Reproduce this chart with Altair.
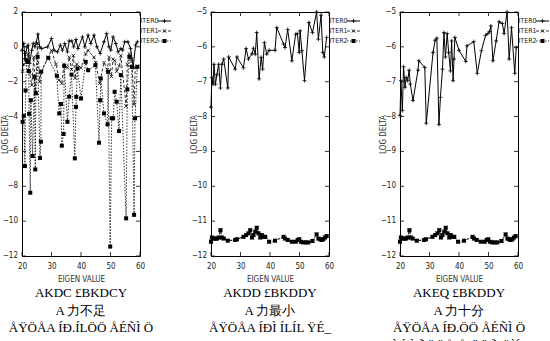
import altair as alt
import pandas as pd

# ---------------------------------------------------------------- data
SERIES = ["ITER0", "ITER1", "ITER2"]
X_TICKS = [20, 30, 40, 50, 60]
Y_TICKS_A = [-12, -10, -8, -6, -4, -2, 0, 2]
Y_TICKS_B = [-12, -11, -10, -9, -8, -7, -6, -5]

# panel 1
p1_iter0_x = [20.0, 20.6, 21.0, 21.7, 22.1, 22.6, 23.3, 23.8, 24.4, 24.8,
              25.4, 26.0, 26.6, 28.7, 30.0, 30.9, 32.0, 33.0, 33.7, 34.5,
              35.4, 36.0, 36.9, 37.5, 38.3, 39.0, 40.5, 41.3, 42.4, 43.3,
              44.4, 45.4, 46.5, 47.8, 48.7, 49.5, 50.1, 50.9, 51.8, 52.6,
              53.5, 54.1, 54.8, 55.9, 56.8, 57.7, 58.5, 59.1]
p1_iter0_y = [-0.2, 0.2, -0.67, 0.0, 0.1, -0.95, -0.2, 0.2, 0.0, 0.23,
              0.73, 0.0, -0.1, 0.0, 0.48, -0.2, -0.29, 0.1, -0.19, 0.19,
              -0.29, 0.34, 0.34, 0.0, 0.42, -0.1, 0.57, 0.0, 0.67, 0.19,
              0.67, 0.0, -0.38, 0.29, 0.76, 0.0, -0.19, 0.57, 0.19, -0.29,
              -0.1, -0.19, 0.29, 0.29, -0.1, -1.15, 0.1, 0.29]

p1_iter1_x = [20.2, 20.6, 21.0, 21.6, 22.1, 22.6, 23.3, 24.0, 24.5, 25.3,
              26.0, 26.5, 28.9, 30.0, 31.5, 32.6, 33.5, 34.2, 35.4, 36.0,
              36.8, 37.4, 38.0, 38.6, 40.0, 41.6, 42.4, 44.4, 45.0, 46.3,
              47.8, 48.9, 49.5, 50.3, 50.9, 51.4, 52.1, 53.0, 53.5, 55.3,
              55.7, 56.4, 57.2, 58.0, 58.4, 59.1]
p1_iter1_y = [-1.4, -1.0, -0.3, -0.9, -0.4, -1.5, -2.2, -0.6, -2.6, 0.2,
              -2.0, -1.4, -0.6, -0.2, -1.0, -1.9, -2.1, -1.0, -1.2, -0.6,
              -1.3, -0.5, -1.8, -1.0, -1.2, -0.4, -0.2, -0.6, -0.9, -2.1,
              -0.9, -1.3, -0.6, -1.7, -0.7, -0.8, -1.4, -1.1, -0.5, -3.4,
              -1.0, -0.4, -0.7, -3.3, -1.2, -1.1]

p1_iter2_x = [20.2, 20.6, 21.0, 21.2, 21.6, 21.9, 22.3, 22.4, 22.8, 23.0,
              23.6, 24.2, 24.5, 24.7, 25.3, 26.1, 26.4, 26.5, 28.9, 31.8,
              32.6, 33.2, 33.5, 34.1, 34.3, 35.4, 36.0, 36.8, 37.9, 38.3,
              38.4, 38.8, 40.0, 41.6, 42.4, 44.9, 46.1, 46.5, 46.7, 47.8,
              49.0, 49.2, 49.9, 50.4, 50.9, 51.4, 52.1, 52.9, 53.5, 55.3,
              55.7, 56.4, 57.2, 58.0, 58.3, 59.1]
p1_iter2_y = [-4.3, -3.95, -6.84, -2.5, -0.76, -0.86, -1.38, -3.84, -8.37, -3.06,
              -6.26, -1.72, -7.03, -2.67, -0.57, -6.38, -5.44, -1.43, -0.63, -1.66,
              -3.82, -3.28, -5.67, -5.0, -1.09, -4.3, -2.86, -1.59, -6.4, -3.44,
              -2.87, -1.24, -2.96, -0.86, -1.34, -1.05, -5.5, -3.06, -1.81, -3.82,
              -4.45, -1.43, -11.46, -4.1, -4.1, -2.58, -3.15, -4.83, -1.62, -9.84,
              -2.44, -0.57, -1.15, -9.64, -4.1, -1.15]

# panel 2
p2_iter0_x = [20.0, 20.3, 20.7, 21.0, 21.5, 22.0, 22.6, 23.2, 23.7, 24.3,
              25.7, 26.0, 28.2, 28.8, 31.0, 31.9, 32.7, 33.9, 34.4, 35.0,
              35.5, 36.3, 37.0, 37.5, 38.1, 38.9, 39.7, 41.7, 42.3, 44.6,
              45.1, 46.0, 47.4, 48.7, 49.3, 49.9, 50.2, 50.8, 51.7, 53.2,
              54.4, 55.8, 56.4, 57.3, 57.9, 58.4, 59.2]
p2_iter0_y = [-7.73, -6.88, -7.07, -6.5, -7.07, -6.8, -6.5, -7.18, -6.5, -6.35,
              -7.18, -6.29, -6.64, -6.29, -6.6, -6.05, -6.35, -6.2, -6.04, -6.21,
              -5.59, -6.92, -6.3, -6.64, -5.88, -6.21, -6.1, -6.1, -5.45, -5.92,
              -6.02, -5.5, -6.4, -5.64, -5.62, -6.16, -5.54, -6.11, -6.97, -5.3,
              -5.59, -5.0, -5.78, -5.09, -6.16, -6.29, -5.73]

# panel 3
p3_iter0_x = [20.0, 20.3, 20.8, 21.2, 21.7, 22.1, 22.6, 23.1, 23.5, 24.4,
              26.1, 26.4, 28.4, 28.9, 31.2, 31.9, 32.5, 33.2, 33.7, 34.4,
              34.9, 35.4, 36.0, 36.5, 37.1, 37.5, 38.0, 38.3, 38.6, 40.0,
              42.3, 42.7, 45.0, 46.2, 47.6, 49.0, 49.8, 50.4, 50.8, 51.5,
              52.6, 53.6, 54.7, 55.3, 56.3, 57.0, 57.8, 58.9, 59.4]
p3_iter0_y = [-7.97, -6.97, -7.83, -6.57, -7.16, -6.88, -6.97, -6.67, -7.07, -7.54,
              -6.67, -6.4, -6.59, -8.19, -6.16, -5.81, -5.75, -8.23, -7.45, -6.64,
              -5.59, -6.29, -5.62, -6.16, -6.69, -5.83, -6.97, -6.35, -5.73, -6.1,
              -6.42, -5.97, -5.85, -6.76, -6.11, -5.67, -5.62, -5.56, -5.4, -6.4,
              -5.83, -5.28, -5.33, -5.62, -5.0, -6.35, -5.45, -6.76, -6.02]

# converged iterations (panels 2 and 3)
low_x = [20.0, 20.3, 20.9, 21.5, 22.0, 22.6, 23.2, 23.7, 24.3, 25.7,
         28.2, 28.8, 31.0, 31.9, 32.7, 33.3, 33.9, 34.4, 35.0, 35.5,
         36.1, 36.7, 37.2, 37.8, 38.4, 39.7, 41.7, 44.6, 45.1, 46.0,
         47.4, 48.7, 49.4, 49.9, 50.5, 51.3, 52.1, 53.0, 54.4, 55.8,
         56.4, 57.0, 57.5, 58.1, 58.6, 59.2]
low_iter1_y = [-11.59, -11.47, -11.5, -11.5, -11.5, -11.47, -11.26, -11.47, -11.5, -11.56,
               -11.54, -11.52, -11.45, -11.4, -11.35, -11.26, -11.47, -11.4, -11.3, -11.19,
               -11.35, -11.47, -11.4, -11.45, -11.45, -11.59, -11.56, -11.45, -11.5, -11.54,
               -11.59, -11.59, -11.54, -11.52, -11.59, -11.61, -11.61, -11.61, -11.57, -11.38,
               -11.5, -11.52, -11.54, -11.52, -11.47, -11.43]
low_iter2_y = [-11.59, -11.47, -11.5, -11.5, -11.5, -11.47, -11.26, -11.47, -11.5, -11.56,
               -11.54, -11.52, -11.45, -11.4, -11.35, -11.26, -11.47, -11.4, -11.3, -11.19,
               -11.35, -11.47, -11.4, -11.45, -11.45, -11.59, -11.56, -11.45, -11.5, -11.54,
               -11.59, -11.59, -11.54, -11.52, -11.59, -11.61, -11.61, -11.61, -11.57, -11.38,
               -11.5, -11.52, -11.54, -11.52, -11.47, -11.43]

captions_1 = ["AKDC £BKDCY", "A  力不足", "ÅŸÖÅA  ÍÐ.ÍLÖÖ   ÅÉÑÌ Ö"]
captions_2 = ["AKDD £BKDDY", "A  力最小", "ÅŸÖÅA  ÍÐÌ  ÍLÍL  ŸÉ_"]
captions_3 = ["AKEQ £BKDDY", "A  力十分", "ÅŸÖÅA  ÍÐ.ÖÖ   ÅÉÑÌ Ö",
              "ÀÉÒÑŸÖÅ Å   ÖÖÑ ÖÌÍZ"]

# ---------------------------------------------------------------- style
W, H = 118, 244
NARROW = "Liberation Sans Narrow, DejaVu Sans Condensed, Liberation Sans, sans-serif"
SERIF = "Liberation Sans Narrow, Liberation Serif, serif"
PLUS = "M-1,0L1,0M0,-1L0,1"
CROSS = "M-1,-1L1,1M-1,1L1,-1"
STYLE = {
    "ITER0": dict(dash=None, shape=PLUS, filled=False, size=16, sw=1.0),
    "ITER1": dict(dash=[3, 2], shape=CROSS, filled=False, size=12, sw=0.8),
    "ITER2": dict(dash=[1.5, 1.5], shape="square", filled=True, size=16, sw=0.8),
}


def series_layers(name, xv, yv, xs, ys, xaxis, yaxis):
    st = STYLE[name]
    df = pd.DataFrame({"x": xv, "y": yv})
    base = alt.Chart(df).encode(
        x=alt.X("x:Q", scale=xs, axis=xaxis),
        y=alt.Y("y:Q", scale=ys, axis=yaxis),
    )
    line_kw = dict(color="black", strokeWidth=st["sw"])
    if st["dash"]:
        line_kw["strokeDash"] = st["dash"]
    line = base.mark_line(**line_kw)
    pts = base.mark_point(shape=st["shape"], filled=st["filled"], size=st["size"],
                          color="black", strokeWidth=0.8, opacity=1)
    return [line, pts]


def legend_layers():
    out = []
    one = pd.DataFrame({"k": [0]})
    for i, name in enumerate(SERIES):
        st = STYLE[name]
        yy = 9 + 10 * i
        out.append(alt.Chart(one).mark_text(text=name, align="left", baseline="middle",
                                            font=NARROW, fontSize=7, color="#222")
                   .encode(x=alt.value(W + 0.5), y=alt.value(yy)))
        rule_kw = dict(color="black", strokeWidth=st["sw"])
        if st["dash"]:
            rule_kw["strokeDash"] = st["dash"]
        out.append(alt.Chart(one).mark_rule(**rule_kw)
                   .encode(x=alt.value(W + 18), x2=alt.value(W + 31), y=alt.value(yy)))
        out.append(alt.Chart(one).mark_point(shape=st["shape"], filled=st["filled"],
                                             size=st["size"], color="black",
                                             strokeWidth=0.8, opacity=1)
                   .encode(x=alt.value(W + 24.5), y=alt.value(yy)))
    return out


def tick_layers(xs, ys, y_ticks, xaxis, yaxis):
    # inward tick marks on all four sides of the frame, plus the y tick labels
    xt = pd.DataFrame({"x": X_TICKS})
    yt = pd.DataFrame({"y": y_ticks})
    kw = dict(color="black", strokeWidth=0.8)
    xb = alt.Chart(xt).mark_rule(**kw)
    yb = alt.Chart(yt).mark_rule(**kw)
    ylab = alt.Chart(yt).mark_text(align="right", baseline="middle", font=NARROW,
                                   fontSize=8, color="#222").encode(
        y=alt.Y("y:Q", scale=ys, axis=yaxis), x=alt.value(-4),
        text=alt.Text("y:Q", format="d"))
    return [
        xb.encode(x=alt.X("x:Q", scale=xs, axis=xaxis), y=alt.value(H), y2=alt.value(H - 4)),
        xb.encode(x=alt.X("x:Q", scale=xs, axis=xaxis), y=alt.value(0), y2=alt.value(4)),
        yb.encode(y=alt.Y("y:Q", scale=ys, axis=yaxis), x=alt.value(0), x2=alt.value(4)),
        yb.encode(y=alt.Y("y:Q", scale=ys, axis=yaxis), x=alt.value(W - 4), x2=alt.value(W)),
        ylab,
    ]


def panel(curves, y_dom, y_ticks, captions):
    xs = alt.Scale(domain=[20, 60], nice=False, zero=False)
    ys = alt.Scale(domain=y_dom, nice=False, zero=False)
    xaxis = alt.Axis(values=X_TICKS, title="EIGEN VALUE", labelPadding=6,
                     titlePadding=5, format="d", labelOverlap=False,
                     labelFlush=False, labelBound=False)
    yaxis = alt.Axis(values=y_ticks, title="LOG  DELTA", labels=False,
                     titleX=-17, titleBaseline="middle")
    layers = []
    for name, xv, yv in curves:
        layers += series_layers(name, xv, yv, xs, ys, xaxis, yaxis)
    layers += tick_layers(xs, ys, y_ticks, xaxis, yaxis)
    layers += legend_layers()
    return alt.layer(*layers).properties(
        width=W, height=H,
        title=alt.TitleParams(text=captions, orient="bottom", anchor="middle",
                              font=SERIF, fontSize=13, fontWeight="normal",
                              color="black", lineHeight=17.5, offset=4),
    )


p1 = panel([("ITER0", p1_iter0_x, p1_iter0_y),
            ("ITER1", p1_iter1_x, p1_iter1_y),
            ("ITER2", p1_iter2_x, p1_iter2_y)], [-12, 2], Y_TICKS_A, captions_1)
p2 = panel([("ITER0", p2_iter0_x, p2_iter0_y),
            ("ITER1", low_x, low_iter1_y),
            ("ITER2", low_x, low_iter2_y)], [-12, -5], Y_TICKS_B, captions_2)
p3 = panel([("ITER0", p3_iter0_x, p3_iter0_y),
            ("ITER1", low_x, low_iter1_y),
            ("ITER2", low_x, low_iter2_y)], [-12, -5], Y_TICKS_B, captions_3)

chart = (
    alt.hconcat(p1, p2, p3, spacing=71, bounds="flush")
    .properties(padding={"left": 0, "top": 7, "right": 0, "bottom": 0},
                background="white")
    .configure_view(stroke="black", strokeWidth=1)
    .configure_axis(grid=False, ticks=False, domain=False,
                    labelOverlap=False, labelFlush=False,
                    labelFont=NARROW, labelFontSize=8, labelColor="#222",
                    titleFont=NARROW, titleFontSize=8, titleFontWeight="normal",
                    titleColor="#333")
)

chart.save("out.html", embed_options={"renderer": "svg", "actions": False})
